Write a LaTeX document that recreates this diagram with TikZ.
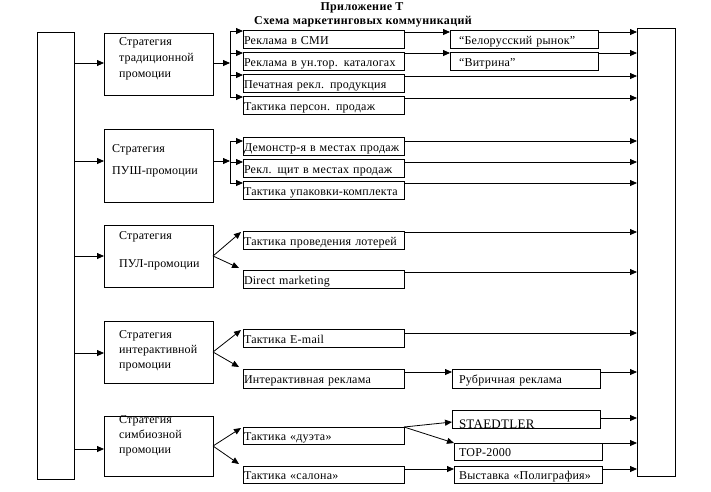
\documentclass[tikz,border=0pt]{standalone}
\usepackage{fontspec}
\setmainfont{Liberation Serif}[LetterSpace=1]
\newfontfamily\boxfont{Liberation Serif}[LetterSpace=2]
\newfontfamily\ttlfont{Liberation Serif}[LetterSpace=3]
\usetikzlibrary{arrows.meta,calc}
\begin{document}
\begin{tikzpicture}[x=1pt,y=-1pt,
  every node/.style={font=\fontsize{12}{13}\selectfont},
  ln/.style={line width=0.8pt},
  arr/.style={ln,-{Triangle[length=7pt,width=6pt]}},
  tb/.style={draw,ln,anchor=north west,inner xsep=1pt,inner ysep=0pt,outer sep=0pt,text width=159pt,text height=11pt,text depth=1pt,minimum height=18pt,align=left,font=\boxfont\fontsize{12}{13}\selectfont},
  tc/.style={tb,text width=146pt},
  sb/.style={draw,ln,anchor=north west,inner sep=0pt,outer sep=0pt,minimum width=109pt},
  st/.style={anchor=west,align=left,inner sep=0pt},
  big/.style={draw,ln,anchor=north west,inner sep=0pt,outer sep=0pt,minimum width=37pt},
  ttl/.style={font=\ttlfont\fontsize{12}{13}\selectfont\bfseries,inner sep=0pt}]
\useasboundingbox (0,0) rectangle (711,491);
% title
\node[ttl] (t1) at (362,8) {Приложение Т};
\node[ttl] (t2) at (363,22) {Схема маркетинговых коммуникаций};
% side boxes
\node[big,minimum height=447pt] (L) at (37,32) {};
\node[big,minimum height=448pt,minimum width=38pt] (R) at (637,28) {};
% strategy boxes
\node[sb,minimum height=62pt] (s1) at (104,33) {};
\node[sb,minimum height=73pt] (s2) at (104,129) {};
\node[sb,minimum height=62pt] (s3) at (104,225) {};
\node[sb,minimum height=62pt] (s4) at (104,321) {};
\node[sb,minimum height=60pt] (s5) at (104,416) {};
\node[st] (s1t) at (119,59) {Стратегия\\[3pt]традиционной\\[3pt]промоции};
\node[st] (s2t) at (112,161) {Стратегия\\[9pt]ПУШ-промоции};
\node[st] (s3t) at (119,251) {Стратегия\\[15pt]ПУЛ-промоции};
\node[st] (s4t) at (119,351) {Стратегия\\[2pt]интерактивной\\[2pt]промоции};
\node[st] (s5t) at (119,436) {Стратегия\\[2pt]симбиозной\\[2pt]промоции};
% left box to strategies
\draw[arr] (L.east |- 0,63) -- (s1.west |- 0,63);
\draw[arr] (L.east |- 0,161) -- (s2.west |- 0,161);
\draw[arr] (L.east |- 0,256) -- (s3.west |- 0,256);
\draw[arr] (L.east |- 0,353) -- (s4.west |- 0,353);
\draw[arr] (L.east |- 0,449) -- (s5.west |- 0,449);
% row 1
\node[tb] (a1) at (243,30) {Реклама в СМИ};
\node[tb] (a2) at (243,52) {\mbox{Реклама в ун.тор. каталогах}};
\node[tb] (a3) at (243,74) {Печатная рекл. продукция};
\node[tb] (a4) at (243,96) {Тактика персон. продаж};
\node[tc] (c1) at (450,30) {\hspace*{8pt}“Белорусский рынок”};
\node[tc] (c2) at (450,52) {\hspace*{8pt}“Витрина”};
\coordinate (b1) at (230,63);
\draw[arr] (s1.east |- b1) -- (b1);
\draw[ln] (b1 |- 0,31) -- (b1 |- 0,97);
\draw[arr] (b1 |- 0,31) -- (a1.west |- 0,31);
\draw[arr] (b1 |- 0,53) -- (a2.west |- 0,53);
\draw[arr] (b1 |- 0,75) -- (a3.west |- 0,75);
\draw[arr] (b1 |- 0,97) -- (a4.west |- 0,97);
\draw[arr] (a1.east |- 0,32) -- (c1.west |- 0,32);
\draw[arr] (a2.east |- 0,53) -- (c2.west |- 0,53);
\draw[arr] (c1.east |- 0,32) -- (R.west |- 0,32);
\draw[arr] (c2.east |- 0,53) -- (R.west |- 0,53);
\draw[arr] (a3.east |- 0,76) -- (R.west |- 0,76);
\draw[arr] (a4.east |- 0,98) -- (R.west |- 0,98);
% row 2
\node[tb] (d1) at (243,137) {\mbox{Демонстр-я в местах продаж}};
\node[tb] (d2) at (243,159) {\mbox{Рекл. щит в местах продаж}};
\node[tb] (d3) at (243,181) {\mbox{Тактика упаковки-комплекта}};
\coordinate (b2) at (230,161);
\draw[arr] (s2.east |- b2) -- (b2);
\draw[ln] (b2 |- 0,141) -- (b2 |- 0,183);
\draw[arr] (b2 |- 0,141) -- (d1.west |- 0,141);
\draw[arr] (b2 |- 0,162) -- (d2.west |- 0,162);
\draw[arr] (b2 |- 0,183) -- (d3.west |- 0,183);
\draw[arr] (d1.east |- 0,141) -- (R.west |- 0,141);
\draw[arr] (d2.east |- 0,162) -- (R.west |- 0,162);
\draw[arr] (d3.east |- 0,183) -- (R.west |- 0,183);
% row 3
\node[tb] (e1) at (243,231) {\mbox{Тактика проведения лотерей}};
\node[tb] (e2) at (243,270) {Direct marketing};
\draw[arr] (s3.east) -- ([xshift=-2pt,yshift=-1pt]e1.north west);
\draw[arr] (s3.east) -- ([xshift=-4pt,yshift=2pt]e2.north west);
\draw[arr] (e1.east |- 0,232) -- (R.west |- 0,232);
\draw[arr] (e2.east |- 0,272) -- (R.west |- 0,272);
% row 4
\node[tb] (f1) at (243,329) {Тактика E-mail};
\node[tb,minimum height=19pt] (f2) at (243,369) {Интерактивная реклама};
\node[tc,minimum height=19pt] (g1) at (452,369) {\hspace*{6pt}Рубричная реклама};
\draw[arr] (s4.east) -- ([xshift=-2pt,yshift=-1pt]f1.north west);
\draw[arr] (s4.east) -- ([xshift=-4pt,yshift=2pt]f2.north west);
\draw[arr] (f1.east |- 0,333) -- (R.west |- 0,333);
\draw[arr] (f2.east |- 0,372) -- (g1.west |- 0,372);
\draw[arr] (g1.east |- 0,372) -- (R.west |- 0,372);
% row 5
\node[tb,minimum height=17pt] (h1) at (243,427) {Тактика «дуэта»};
\node[tb,minimum height=17pt] (h2) at (243,466) {Тактика «салона»};
\node[tc,minimum height=18pt] (k1) at (452,410) {\hspace*{6pt}\raisebox{-4pt}{\fontsize{13}{15}\selectfont STAEDTLER}};
\node[tc,minimum height=17pt] (k2) at (454,443) {\hspace*{4pt}TOP-2000};
\node[tc,minimum height=17pt] (k3) at (454,466) {\hspace*{4pt}\mbox{Выставка «Полиграфия»}};
\draw[arr] (s5.east) -- ([xshift=-2pt,yshift=-1pt]h1.north west);
\draw[arr] (s5.east) -- ([xshift=-4pt,yshift=2pt]h2.north west);
\draw[arr] (h1.north east) -- (k1.west |- 0,422);
\draw[arr] (h1.north east) -- (k2.north west);
\draw[arr] (h2.east |- 0,469) -- (k3.west |- 0,469);
\draw[arr] (k1.east |- 0,418) -- (R.west |- 0,418);
\draw[arr] (k2.east |- 0,443) -- (R.west |- 0,443);
\draw[arr] (k3.east |- 0,469) -- (R.west |- 0,469);
\end{tikzpicture}
\end{document}
